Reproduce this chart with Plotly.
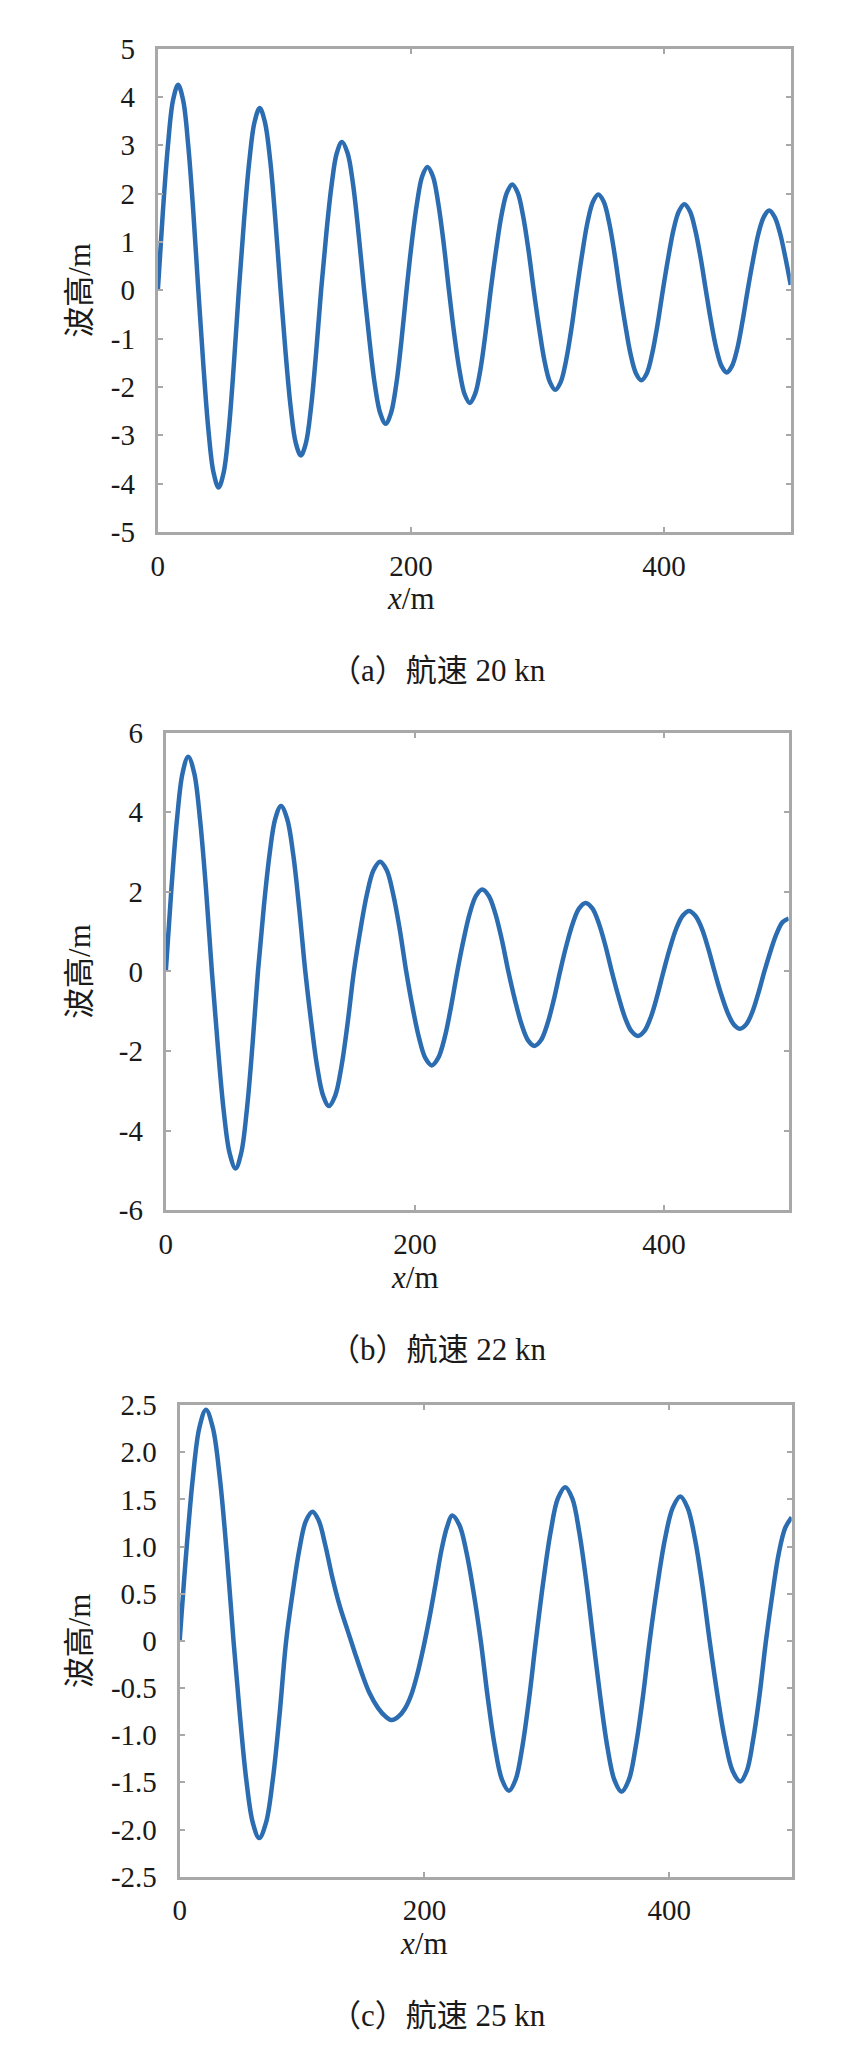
import plotly.graph_objects as go

W, H = 865, 2052

# ---- data (x in m, wave height in m) ----
a_x = [0, 4, 8, 12, 16, 20, 24, 28, 32, 36, 40, 44, 48, 52, 56, 60, 64,
       68.1, 72.3, 76.4, 80.5, 84.6, 88.8, 92.9, 97, 101, 105, 109, 113, 117, 121, 125, 129,
       133.1, 137.3, 141.4, 145.5, 149.9, 154.3, 158.6, 163, 167.3, 171.5, 175.8, 180,
       184.1, 188.3, 192.4, 196.5, 200.6, 204.8, 208.9, 213, 217.3, 221.5, 225.8, 230,
       234.1, 238.3, 242.4, 246.5, 250.6, 254.8, 258.9, 263, 267.3, 271.5, 275.8, 280,
       284.3, 288.5, 292.8, 297, 301.3, 305.5, 309.8, 314, 318.3, 322.5, 326.8, 331,
       335.3, 339.5, 343.8, 348, 352.3, 356.5, 360.8, 365, 369.3, 373.5, 377.8, 382,
       386.3, 390.5, 394.8, 399, 403.3, 407.5, 411.8, 416, 420.3, 424.5, 428.8, 433,
       437.1, 441.3, 445.4, 449.5, 453.6, 457.8, 461.9, 466, 470.3, 474.5, 478.8, 483,
       487.3, 491.5, 495.8, 500]
a_y = [0, 1.63, 3.0, 3.93, 4.25, 3.93, 3.0, 1.63, 0, -1.56, -2.9, -3.77, -4.08, -3.77, -2.9, -1.56, 0,
       1.44, 2.68, 3.48, 3.77, 3.48, 2.68, 1.44, 0, -1.31, -2.43, -3.16, -3.42, -3.16, -2.43, -1.31, 0,
       1.17, 2.18, 2.84, 3.07, 2.84, 2.18, 1.17, 0, -1.06, -1.96, -2.55, -2.76,
       -2.55, -1.96, -1.06, 0, 0.98, 1.81, 2.36, 2.55, 2.36, 1.81, 0.98, 0,
       -0.89, -1.65, -2.15, -2.33, -2.15, -1.65, -0.89, 0, 0.84, 1.55, 2.02, 2.19,
       2.02, 1.55, 0.84, 0, -0.79, -1.46, -1.90, -2.06, -1.90, -1.46, -0.79, 0,
       0.76, 1.41, 1.83, 1.98, 1.83, 1.41, 0.76, 0, -0.71, -1.32, -1.72, -1.86,
       -1.72, -1.32, -0.71, 0, 0.68, 1.26, 1.64, 1.78, 1.64, 1.26, 0.68, 0,
       -0.65, -1.21, -1.57, -1.70, -1.57, -1.21, -0.65, 0, 0.63, 1.17, 1.52, 1.65,
       1.52, 1.19, 0.68, 0.11]

b_x = [0, 4.5, 9, 13.5, 18, 22.8, 27.5, 32.3, 37, 41.8, 46.5, 51.3, 56, 60.5, 65, 69.5, 74,
       78.6, 83.3, 87.9, 92.5, 97.4, 102.3, 107.1, 112, 116.8, 121.5, 126.3, 131,
       136, 141, 146, 151, 156.3, 161.5, 166.8, 172, 177.3, 182.5, 187.8, 193,
       198.1, 203.3, 208.4, 213.5, 218.6, 223.8, 228.9, 234, 239, 244, 249, 254,
       259.3, 264.5, 269.8, 275, 280.3, 285.5, 290.8, 296, 301.1, 306.3, 311.4, 316.5,
       321.6, 326.8, 331.9, 337, 342.3, 347.5, 352.8, 358, 363.3, 368.5, 373.8, 379,
       384.1, 389.3, 394.4, 399.5, 404.6, 409.8, 414.9, 420, 425.1, 430.3, 435.4, 440.5,
       445.6, 450.8, 455.9, 461, 465.9, 470.8, 475.6, 480.5, 485.4, 490.3, 495.1, 500]
b_y = [0, 2.07, 3.82, 4.99, 5.4, 4.99, 3.82, 2.07, 0, -1.89, -3.5, -4.57, -4.95, -4.57, -3.5, -1.89, 0,
       1.59, 2.94, 3.84, 4.16, 3.84, 2.94, 1.59, 0, -1.29, -2.39, -3.12, -3.38,
       -3.12, -2.39, -1.29, 0, 1.06, 1.95, 2.55, 2.76, 2.55, 1.95, 1.06, 0,
       -0.90, -1.67, -2.18, -2.36, -2.18, -1.67, -0.90, 0, 0.79, 1.46, 1.90, 2.06,
       1.90, 1.46, 0.79, 0, -0.72, -1.32, -1.73, -1.87, -1.73, -1.32, -0.72, 0,
       0.66, 1.22, 1.59, 1.72, 1.59, 1.22, 0.66, 0, -0.62, -1.15, -1.50, -1.62,
       -1.50, -1.15, -0.62, 0, 0.58, 1.08, 1.40, 1.52, 1.40, 1.08, 0.58, 0,
       -0.55, -1.02, -1.33, -1.44, -1.33, -1.02, -0.55, 0, 0.51, 0.95, 1.24, 1.33]

c_x = [0, 5.4, 10.8, 16.1, 21.5, 27.1, 32.8, 38.4, 44, 49.3, 54.5, 59.8, 65, 70.5, 76, 81.5, 87,
       92.4, 97.8, 103.1, 108.5, 113.5, 118.9, 124.8, 131, 137, 143, 149, 155, 162, 168,
       173.4, 179, 184, 189, 194, 199, 204, 209, 214, 218.5, 222.6, 228.5, 234.3, 240.2, 246,
       251.8, 257.5, 263.3, 269, 274.5, 280, 285.5, 291, 297, 303, 309, 315,
       320.8, 326.5, 332.3, 338, 343.8, 349.5, 355.3, 361, 366.8, 372.5, 378.3, 384,
       390.3, 396.5, 402.8, 409, 415, 421, 427, 433, 439.3, 445.5, 451.8, 458,
       463.3, 468.5, 473.8, 479, 484.3, 489.5, 494.8, 500]
c_y = [0, 0.94, 1.73, 2.26, 2.45, 2.26, 1.73, 0.94, 0, -0.80, -1.48, -1.93, -2.09, -1.93, -1.48, -0.80, 0,
       0.52, 0.97, 1.27, 1.37, 1.28, 1.02, 0.67, 0.36, 0.12, -0.12, -0.35, -0.55, -0.71, -0.80,
       -0.84, -0.80, -0.72, -0.58, -0.36, -0.08, 0.24, 0.60, 0.97, 1.21, 1.33, 1.23, 0.94, 0.51, 0,
       -0.61, -1.12, -1.47, -1.59, -1.47, -1.12, -0.61, 0, 0.62, 1.15, 1.51, 1.63,
       1.51, 1.15, 0.62, 0, -0.61, -1.13, -1.48, -1.60, -1.48, -1.13, -0.61, 0,
       0.59, 1.08, 1.41, 1.53, 1.41, 1.08, 0.59, 0, -0.57, -1.05, -1.38, -1.49,
       -1.38, -1.05, -0.57, 0, 0.50, 0.93, 1.20, 1.31]

x_ticks = [0, 200, 400]
x_ticktext = ["0", "200", "400"]
a_yticks = [-5, -4, -3, -2, -1, 0, 1, 2, 3, 4, 5]
a_yticktext = ["-5", "-4", "-3", "-2", "-1", "0", "1", "2", "3", "4", "5"]
b_yticks = [-6, -4, -2, 0, 2, 4, 6]
b_yticktext = ["-6", "-4", "-2", "0", "2", "4", "6"]
c_yticks = [-2.5, -2.0, -1.5, -1.0, -0.5, 0, 0.5, 1.0, 1.5, 2.0, 2.5]
c_yticktext = ["-2.5", "-2.0", "-1.5", "-1.0", "-0.5", "0", "0.5", "1.0", "1.5", "2.0", "2.5"]

captions = ["（a）航速 20 kn", "（b）航速 22 kn", "（c）航速 25 kn"]
y_title = "波高/m"
x_title = "<i>x</i>/m"

# ---- layout geometry (pixels) ----
panels = [
    dict(l=144, r=782, t=25, b=516, yr=[-5, 5], yt=a_yticks, ytt=a_yticktext),
    dict(l=152, r=780, t=720, b=1205, yr=[-6, 6], yt=b_yticks, ytt=b_yticktext),
    dict(l=166, r=783, t=1403, b=1882, yr=[-2.5, 2.5], yt=c_yticks, ytt=c_yticktext),
]
series = [(a_x, a_y), (b_x, b_y), (c_x, c_y)]

LINE = "#2c6db2"
AX = "#a8a8a8"
TXT = "#1a1a1a"
FONT = "Liberation Serif, Noto Sans CJK SC, serif"
TICKSIZE = 29

fig = go.Figure()
layout = dict(width=W, height=H, margin=dict(l=0, r=0, t=0, b=0),
              paper_bgcolor="white", plot_bgcolor="white", showlegend=False,
              font=dict(family=FONT, color=TXT, size=TICKSIZE))
annotations = []

for i, (p, (xs, ys)) in enumerate(zip(panels, series)):
    n = "" if i == 0 else str(i + 1)
    xa, ya = "x" + n, "y" + n
    fig.add_trace(go.Scatter(x=xs, y=ys, mode="lines", xaxis=xa, yaxis=ya,
                             line=dict(color=LINE, width=4.5, shape="spline", smoothing=1.0)))
    common = dict(showgrid=False, zeroline=False, showline=True, linecolor=AX, linewidth=3,
                  mirror="ticks", ticks="inside", ticklen=5, tickwidth=2, tickcolor=AX,
                  tickfont=dict(family=FONT, size=TICKSIZE, color=TXT))
    layout["xaxis" + n] = dict(common, domain=[p["l"] / W, p["r"] / W], range=[0, 500],
                               anchor=ya, tickvals=x_ticks, ticktext=x_ticktext,
                               ticklabelstandoff=6)
    layout["yaxis" + n] = dict(common, domain=[1 - p["b"] / H, 1 - p["t"] / H], range=p["yr"],
                               anchor=xa, tickvals=p["yt"], ticktext=p["ytt"],
                               ticklabelstandoff=14)
    yc = 1 - (p["t"] + p["b"]) / 2 / H
    annotations.append(dict(text=y_title, xref="paper", yref="paper", x=65 / W, y=yc,
                            textangle=-90, showarrow=False, xanchor="center", yanchor="middle",
                            font=dict(family=FONT, size=31, color=TXT)))
    annotations.append(dict(text=x_title, xref=xa, yref="paper", x=200, y=1 - (p["b"] + 68) / H,
                            showarrow=False, xanchor="center", yanchor="middle",
                            font=dict(family=FONT, size=31, color=TXT)))
    annotations.append(dict(text=captions[i], xref="paper", yref="paper", x=426 / W,
                            y=1 - (p["b"] + 141) / H, showarrow=False,
                            xanchor="center", yanchor="middle",
                            font=dict(family=FONT, size=31, color=TXT)))

layout["annotations"] = annotations
fig.update_layout(**layout)
fig.write_html("out.html")
